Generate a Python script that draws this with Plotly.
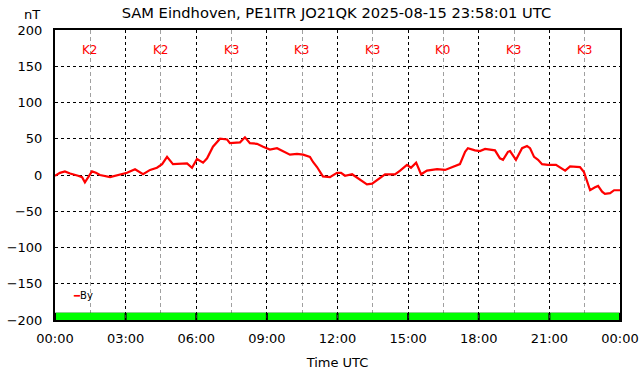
import pandas as pd
import plotly.graph_objects as go

# ---- data ----
hours = [0, 0.21, 0.42, 0.64, 0.98, 1.15, 1.27, 1.40, 1.57, 1.74, 1.91, 2.34, 2.76, 3.06, 3.40, 3.61, 3.74,
         4.04, 4.33, 4.55, 4.76, 5.01, 5.31, 5.61, 5.82, 6.03, 6.29, 6.46, 6.71, 7.01, 7.31, 7.43, 7.86,
         8.07, 8.28, 8.58, 8.84, 9.13, 9.43, 9.69, 9.98, 10.28, 10.54, 10.83, 10.96, 11.13, 11.38, 11.68,
         11.98, 12.15, 12.32, 12.62, 12.96, 13.25, 13.47, 13.81, 14.02, 14.44, 14.66, 14.95, 15.12, 15.34,
         15.55, 15.80, 16.23, 16.57, 16.99, 17.20, 17.42, 17.54, 17.84, 18.05, 18.27, 18.69, 18.90, 19.03,
         19.24, 19.33, 19.58, 19.84, 20.05, 20.18, 20.35, 20.52, 20.69, 20.94, 21.28, 21.45, 21.67, 21.88,
         22.30, 22.47, 22.73, 22.94, 23.07, 23.24, 23.36, 23.58, 23.75, 24.0]
by_nT = [-1, 3, 5, 2, -1, -3, -10, -4, 5, 3, 0, -3, 0, 3, 8, 4, 1,
         7, 10, 15, 25, 15, 16, 16, 10, 22, 17, 23, 39, 50, 49, 44, 45,
         52, 44, 43, 39, 35, 37, 33, 28, 29, 28, 25, 18, 11, -2, -3,
         3, 3, -1, 1, -7, -13, -12, -4, 1, 1, 6, 14, 10, 17,
         1, 6, 8, 7, 12, 15, 32, 37, 34, 33, 36, 34, 23, 21,
         32, 33, 21, 37, 40, 37, 25, 21, 15, 14, 14, 10, 6, 12,
         11, 4, -21, -17, -15, -23, -26, -25, -21, -21]

k_hours = [1.5, 4.5, 7.5, 10.5, 13.5, 16.5, 19.5, 22.5]
k_labels = ["K2", "K2", "K3", "K3", "K3", "K0", "K3", "K3"]
band_height = [10, 10, 10, 10, 10, 10, 10, 10]

day = pd.Timestamp("2025-08-15 00:00:00")
t = day + pd.to_timedelta(hours, unit="h")
tk = day + pd.to_timedelta(k_hours, unit="h")
three_h_ms = 3 * 3600 * 1000

fig = go.Figure()
# K-index band (black under-layer shows as separators)
fig.add_trace(go.Bar(x=tk, y=band_height, base=-200, width=[three_h_ms] * 8,
                     marker=dict(color="black", line=dict(width=0)), showlegend=False, hoverinfo="skip"))
fig.add_trace(go.Bar(x=tk, y=band_height, base=-200, width=[three_h_ms - 300000] * 8,
                     marker=dict(color="#00ff00", line=dict(width=0)), showlegend=False, hoverinfo="skip"))
fig.add_trace(go.Scatter(x=t, y=by_nT, mode="lines", name="By",
                         line=dict(color="#ff0000", width=2.2), showlegend=False))

for xk, lab in zip(tk, k_labels):
    fig.add_annotation(x=xk, y=172, text=lab, showarrow=False,
                       font=dict(color="#ff0000", size=12, family="DejaVu Sans"))

fig.add_annotation(xref="paper", yref="paper", x=0.029, y=0.083, xanchor="left", yanchor="middle",
                   text="<span style='color:#ff0000'>━</span>By", showarrow=False,
                   font=dict(size=10, family="DejaVu Sans", color="black"))
fig.add_annotation(xref="paper", yref="paper", x=-0.041, y=1.0, yshift=16, xanchor="center", yanchor="middle",
                   text="nT", showarrow=False, font=dict(size=13, family="DejaVu Sans", color="black"))

fig.update_layout(
    width=642, height=376,
    margin=dict(l=55, r=22, t=30, b=56),
    paper_bgcolor="white", plot_bgcolor="white",
    barmode="overlay",
    font=dict(family="DejaVu Sans", size=13, color="black"),
    title=dict(text="SAM Eindhoven, PE1ITR JO21QK 2025-08-15 23:58:01 UTC",
               x=0.524, xanchor="center", y=0.967, yanchor="middle",
               font=dict(size=14.7, family="DejaVu Sans", color="black")),
    showlegend=False,
)
fig.update_xaxes(
    range=[day, day + pd.Timedelta(hours=24)],
    tickformat="%H:%M", dtick=three_h_ms, tick0=day,
    showgrid=True, gridcolor="black", griddash="3px,3px", gridwidth=1,
    minor=dict(dtick=three_h_ms / 2, showgrid=True, gridcolor="#a0a0a0", griddash="4px,3px", gridwidth=1),
    showline=True, linecolor="black", linewidth=2, mirror=True,
    ticks="", ticklabelstandoff=5, automargin=False,
    title=dict(text="Time UTC", standoff=13, font=dict(size=13)),
    tickfont=dict(size=13),
)
fig.update_yaxes(
    range=[-200, 200], dtick=50,
    showgrid=True, gridcolor="black", griddash="3px,3px", gridwidth=1,
    zeroline=False,
    showline=True, linecolor="black", linewidth=2, mirror=True,
    ticks="", ticklabelstandoff=8, tickfont=dict(size=13), automargin=False,
)

# remove the browser's default 8px body margin so the 642x376 figure fills the window
fig.write_html("out.html", config={"displayModeBar": False},
               post_script="document.body.style.margin='0px';")
